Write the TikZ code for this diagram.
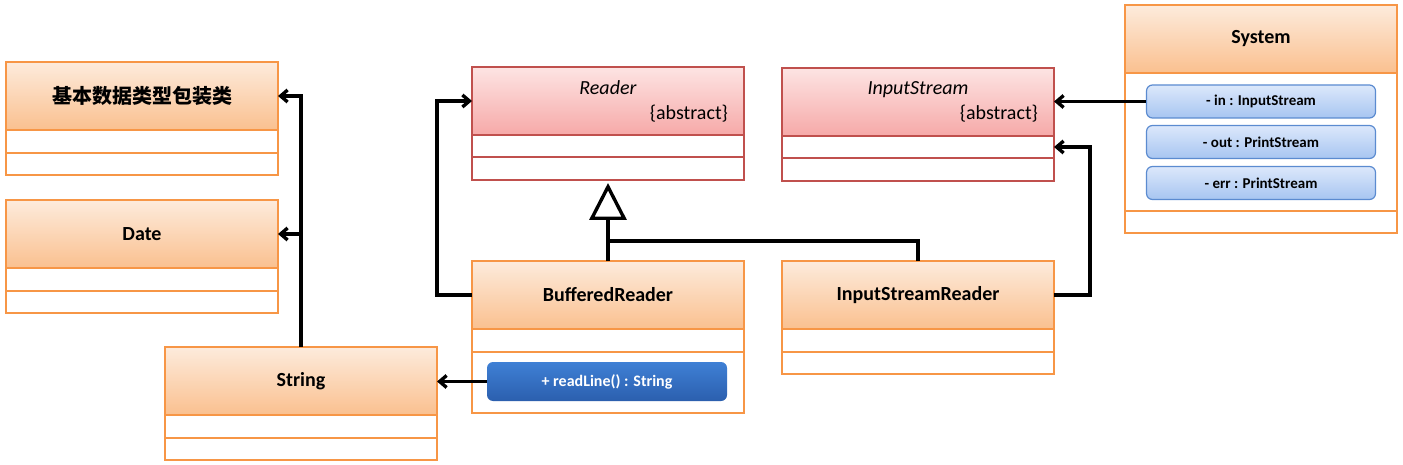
\documentclass[tikz,border=0pt]{standalone}
\usepackage{fontspec}
\setmainfont{Carlito}
\newfontfamily\cjk{Noto Sans CJK SC}
\usetikzlibrary{positioning, arrows.meta}

\definecolor{orangeline}{HTML}{F79646}
\definecolor{orangetop}{HTML}{FDEBDC}
\definecolor{orangebot}{HTML}{FAC08F}
\definecolor{redline}{HTML}{C0504D}
\definecolor{redtop}{HTML}{FDE4E3}
\definecolor{redbot}{HTML}{F6A9A8}
\definecolor{blueline}{HTML}{5B8BD0}
\definecolor{bluetop}{HTML}{DCE8FB}
\definecolor{bluebot}{HTML}{A7C5F1}
\definecolor{darktop}{HTML}{3F80D5}
\definecolor{darkbot}{HTML}{2B5FAE}

\begin{document}
\begin{tikzpicture}[x=1pt, y=-1pt,
    box/.style={draw=orangeline, line width=1.5pt, minimum width=272pt, inner sep=0pt, outer sep=0pt, fill=white},
    head/.style={box, anchor=north west, minimum height=68pt, top color=orangetop, bottom color=orangebot, font=\fontsize{20}{24}\selectfont\bfseries},
    abshead/.style={head, draw=redline, top color=redtop, bottom color=redbot, align=center, text width=240pt, font=\fontsize{20}{25}\selectfont},
    comp/.style={box},
    abscomp/.style={box, draw=redline},
    attr/.style={draw=blueline, line width=1.2pt, rounded corners=6pt, top color=bluetop, bottom color=bluebot, minimum width=229pt, minimum height=33pt, font=\fontsize{15}{17}\selectfont\bfseries},
    op/.style={rounded corners=6pt, top color=darktop, bottom color=darkbot, text=white, minimum width=240pt, minimum height=39pt, font=\fontsize{16}{18}\selectfont\bfseries},
    link/.style={line width=3.4pt, -{Straight Barb[length=7pt,width=12pt]}},
    inherit/.style={line width=3.4pt, -{Triangle[open,length=37pt,width=37pt]}, shorten >=3pt}]
    \useasboundingbox (0,0) rectangle (1403,465);

    \node[head] (basic) at (6,62) {\cjk\fontsize{20}{24}\selectfont 基本数据类型包装类};
    \node[comp, below=0pt of basic, minimum height=23pt] (basic-a) {};
    \node[comp, below=0pt of basic-a, minimum height=22pt] (basic-o) {};

    \node[head] (date) at (6,200) {Date};
    \node[comp, below=0pt of date, minimum height=23pt] (date-a) {};
    \node[comp, below=0pt of date-a, minimum height=22pt] (date-o) {};

    \node[head] (string) at (165,347) {String};
    \node[comp, below=0pt of string, minimum height=23pt] (string-a) {};
    \node[comp, below=0pt of string-a, minimum height=22pt] (string-o) {};

    \node[abshead] (reader) at (472,67) {\textit{Reader}\\ \hfill\{abstract\}};
    \node[abscomp, below=0pt of reader, minimum height=22pt] (reader-a) {};
    \node[abscomp, below=0pt of reader-a, minimum height=23pt] (reader-o) {};

    \node[abshead] (istream) at (782,68) {\textit{InputStream}\\ \hfill\{abstract\}};
    \node[abscomp, below=0pt of istream, minimum height=22pt] (istream-a) {};
    \node[abscomp, below=0pt of istream-a, minimum height=23pt] (istream-o) {};

    \node[head] (bufr) at (472,261) {BufferedReader};
    \node[comp, below=0pt of bufr, minimum height=23pt] (bufr-a) {};
    \node[comp, below=0pt of bufr-a, minimum height=61pt] (bufr-o) {};

    \node[head] (isr) at (782,261) {InputStreamReader};
    \node[comp, below=0pt of isr, minimum height=23pt] (isr-a) {};
    \node[comp, below=0pt of isr-a, minimum height=22pt] (isr-o) {};

    \node[head] (system) at (1125,5) {System};
    \node[comp, below=0pt of system, minimum height=138pt] (system-a) {};
    \node[comp, below=0pt of system-a, minimum height=22pt] (system-o) {};

    \node[attr] (in) at (1261,101.5) {- in : InputStream};
    \node[attr] (out) at (1261,142) {- out : PrintStream};
    \node[attr] (err) at (1261,183) {- err : PrintStream};
    \node[op] (readline) at (607,381.5) {+ readLine() : String};

    \draw[link] (string.north) |- (basic.east);
    \draw[link] (string.north) |- (date.east);
    \draw[link] (bufr.west) -- ++(-35,0) |- (reader.west);
    \draw[link] (readline.west) -- (readline.west -| string.east);
    \draw[link] (in.west) -- (in.west -| istream.east);
    \draw[link] (isr.east) -- ++(36,0) |- (istream-a.east);
    \draw[inherit] (bufr.north) -- (reader-o.south);
    \draw[line width=3.4pt] (isr.north) |- ([yshift=20pt]bufr.north);
\end{tikzpicture}
\end{document}
